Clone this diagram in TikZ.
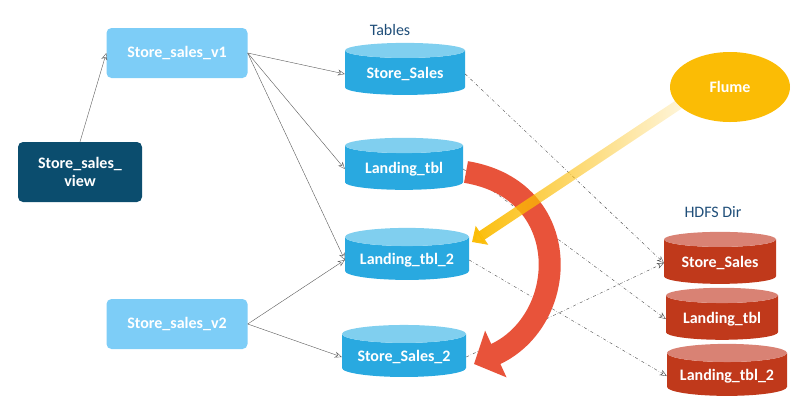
\documentclass[tikz,border=0pt]{standalone}
\usepackage{fontspec}
\setmainfont{Carlito}
\usetikzlibrary{shapes.geometric,arrows.meta,fadings}
\definecolor{lb}{HTML}{7DCDF7}
\definecolor{navy}{HTML}{0B4D6E}
\definecolor{cyl}{HTML}{29A9E0}
\definecolor{cyltop}{HTML}{80CFEF}
\definecolor{rcyl}{HTML}{C0391B}
\definecolor{rtop}{HTML}{D98274}
\definecolor{flume}{HTML}{FBBC05}
\definecolor{redarr}{HTML}{E8533A}
\definecolor{ttl}{HTML}{1F4E79}
\tikzfading[name=fadeout, left color=transparent!0, right color=transparent!90]
\begin{document}
\begin{tikzpicture}[x=1pt,y=-1pt,
  txt/.style={text=white,font=\fontsize{16}{18}\selectfont\bfseries},
  box/.style={txt,rounded corners=5pt,minimum width=141pt,minimum height=50pt,fill=lb,align=center},
  bc/.style={txt,cylinder,shape border rotate=90,aspect=0.18,draw=none,cylinder uses custom fill,
     cylinder body fill=cyl,cylinder end fill=cyltop,minimum height=52pt,minimum width=#1},
  rc/.style={bc=#1,cylinder body fill=rcyl,cylinder end fill=rtop},
  ln/.style={draw=gray!70!black,-{Stealth[length=7pt,width=6pt,open]}},
  dd/.style={ln,dash dot,draw=gray!60!black}]
\useasboundingbox (0,0) rectangle (810,408);
\node[box] (v1) at (177,53) {Store\_sales\_v1};
\node[box,fill=navy,minimum width=124pt,minimum height=60pt] (view) at (80,172) {Store\_sales\_\\view};
\node[box] (v2) at (177,324) {Store\_sales\_v2};
\node[text=ttl,font=\fontsize{16}{18}\selectfont] (tables) at (390,30) {Tables};
\node[bc=120pt] (ss) at (405,74) {\raisebox{-4pt}{Store\_Sales}};
\node[bc=118pt] (lt) at (404,169) {\raisebox{-4pt}{Landing\_tbl}};
\node[bc=124pt] (lt2) at (407,260) {\raisebox{-4pt}{Landing\_tbl\_2}};
\node[bc=124pt] (ss2) at (404,357) {\raisebox{-4pt}{Store\_Sales\_2}};
\node[text=ttl,font=\fontsize{16}{18}\selectfont] (hdfs) at (713,212) {HDFS Dir};
\node[rc=112pt] (rss) at (720,263) {\raisebox{-4pt}{Store\_Sales}};
\node[rc=112pt] (rlt) at (722,319) {\raisebox{-4pt}{Landing\_tbl}};
\node[rc=120pt] (rlt2) at (727,376) {\raisebox{-4pt}{Landing\_tbl\_2}};
\node[ellipse,fill=flume,txt,minimum width=120pt,minimum height=70pt] (fl) at (730,87) {Flume};
% solid connectors
\draw[ln] (view.north) -- (v1.west);
\draw[ln] (v1.east) -- (ss.west);
\draw[ln] (v1.east) -- (lt.west);
\draw[ln] (v1.east) -- (lt2.west);
\draw[ln] (v2.east) -- (lt2.west);
\draw[ln] (v2.east) -- (ss2.west);
% dash-dot
\draw[dd] (ss.east) -- (rss.west);
\draw[dd] (lt.east) -- (rlt.west);
\draw[dd] (lt2.east) -- (rlt2.west);
\draw[dd] (ss2.east) -- (rss.west);
% red curved arrow
\coordinate (ra) at (466,172);
\coordinate (rb) at (474,364);
\draw[redarr,line width=22pt,-{Triangle[length=24pt,width=50pt]}] (ra) .. controls (575,190) and (570,320) .. (rb);
% yellow arrow
\coordinate (ya) at (690,97);
\coordinate (yb) at (472,242);
\draw[flume,line width=10pt,path fading=fadeout,-{Triangle[length=12pt,width=22pt]}] (ya) -- (yb);
\end{tikzpicture}
\end{document}
